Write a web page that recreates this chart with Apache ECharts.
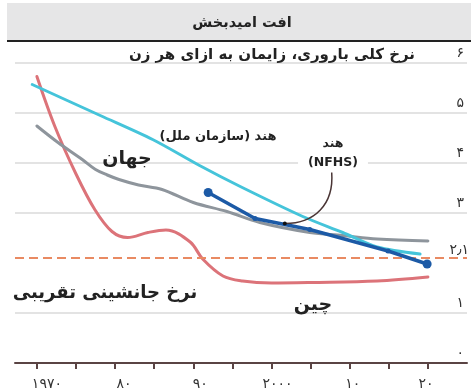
<!DOCTYPE html>
<html>
<head>
<meta charset="utf-8">
<script src="https://cdn.jsdelivr.net/npm/echarts@6/dist/echarts.min.js"></script>
<style>
  html, body { margin: 0; padding: 0; background: #fff; }
  #chart { width: 471px; height: 391px; direction: rtl; }
</style>
</head>
<body>
<div id="chart"></div>
<script>
// Total fertility rate, births per woman: [year, value]
const indiaUN = [
  [1969.4, 5.57], [1973.6, 5.27], [1978.1, 4.95], [1984.8, 4.47],
  [1990.8, 3.95], [1996, 3.53], [2004, 2.93],
  [2009.1, 2.61], [2013.5, 2.32], [2019, 2.18]
];
const world = [
  [1970, 4.74], [1972.7, 4.41], [1975.8, 4.07], [1977.5, 3.87], [1979, 3.76],
  [1980.5, 3.67], [1983, 3.56], [1986, 3.47], [1990, 3.21], [1994.3, 3.03],
  [1998.5, 2.81], [2004.9, 2.61], [2009.1, 2.55], [2013.5, 2.48], [2020, 2.44]
];
const china = [
  [1970, 5.73], [1972.3, 4.73], [1975, 3.78], [1977.4, 3.07], [1979.6, 2.63],
  [1981.6, 2.51], [1984.2, 2.61], [1986.5, 2.66], [1989.6, 2.42], [1991.2, 2.08],
  [1993.8, 1.74], [1996.3, 1.64], [2000, 1.6], [2005, 1.61], [2013.5, 1.64],
  [2020, 1.72]
];
const indiaNFHS = [
  [1991.9, 3.41], [1997.9, 2.89], [2004.9, 2.67], [2014.9, 2.24], [2019.9, 1.98]
];
const replacementRate = 2.1;

const xTickYears = [1970, 1980, 1990, 2000, 2010, 2020];
const xTickLabels = ['۱۹۷۰', '۸۰', '۹۰', '۲۰۰۰', '۱۰', '۲۰'];
const xMinorTicks = [1970, 1975, 1980, 1985, 1990, 1995, 2000, 2005, 2010, 2015, 2020];
const yTickLabels = ['۰', '۱', '', '۳', '۴', '۵', '۶'];

// horizontal nudge of each year label relative to its tick (px)
const xLabelShift = [10, 9, 7, 6, 3, -2];

const FONT = '"DejaVu Sans", "Noto Sans", sans-serif';
const chart = echarts.init(document.getElementById('chart'), null, { renderer: 'canvas' });

function lineSeries(name, data, color, z) {
  return {
    name, type: 'line', data, smooth: 0.35, symbol: 'none', z,
    lineStyle: { color, width: 3, cap: 'round', join: 'round' },
    silent: true, animation: false
  };
}

const rich = {};
xLabelShift.forEach((s, i) => {
  rich['l' + i] = {
    fontSize: 14, color: '#333', fontFamily: FONT,
    padding: s >= 0 ? [0, 0, 0, 2 * s] : [0, -2 * s, 0, 0]
  };
});

const option = {
  animation: false,
  grid: { left: 15, right: 4, top: 63, bottom: 27 },
  xAxis: {
    type: 'value', min: 1967.2, max: 2025,
    axisLine: { show: true, lineStyle: { color: '#5a4444', width: 2 } },
    axisTick: { show: true, customValues: xMinorTicks, length: 6, lineStyle: { color: '#5a4444', width: 2 } },
    axisLabel: {
      customValues: xTickYears, margin: 14, fontSize: 14, color: '#333', fontFamily: FONT,
      formatter: v => {
        const i = xTickYears.indexOf(v);
        return '{l' + i + '|' + xTickLabels[i] + '}';
      },
      rich
    },
    splitLine: { show: false }
  },
  yAxis: {
    type: 'value', min: 0, max: 6, interval: 1, position: 'right',
    axisLine: { show: false }, axisTick: { show: false },
    axisLabel: {
      inside: true, margin: 3, fontSize: 14, color: '#333', fontFamily: FONT,
      verticalAlign: 'bottom', padding: [0, 0, 3, 0],
      formatter: v => yTickLabels[Math.round(v)]
    },
    splitLine: {
      show: true,
      lineStyle: { width: 2, color: ['#e3e3e3', '#e3e3e3', 'rgba(0,0,0,0)', '#e3e3e3', '#e3e3e3', '#e3e3e3', '#e3e3e3'] }
    }
  },
  series: [
    Object.assign(lineSeries('china', china, '#dc7379', 3), {
      markLine: {
        silent: true, symbol: 'none',
        lineStyle: { color: '#e98a62', width: 2, type: [9, 5] },
        label: {
          position: 'insideEndTop', formatter: '۲٫۱', fontSize: 14, color: '#333',
          fontFamily: FONT, distance: [-2, 1]
        },
        data: [{ yAxis: replacementRate }]
      }
    }),
    lineSeries('world', world, '#8e959c', 4),
    Object.assign(lineSeries('indiaUN', indiaUN, '#45c4da', 5), { smooth: 0.3 }),
    {
      name: 'indiaNFHS', type: 'line', data: indiaNFHS, smooth: false, z: 6,
      symbol: 'circle',
      symbolSize: (v, p) => (p.dataIndex === 0 || p.dataIndex === indiaNFHS.length - 1) ? 9 : 5,
      itemStyle: { color: '#1c5aa6' },
      lineStyle: { color: '#1c5aa6', width: 3.5 },
      silent: true
    }
  ]
};
chart.setOption(option);

// Header, subtitle and in-plot labels
const px = (x, y) => chart.convertToPixel({ gridIndex: 0 }, [x, y]);
const tip = px(2001.7, 2.79);
const from = px(2007.7, 3.81);
const c1 = px(2008.0, 3.17);
const c2 = px(2005.5, 2.79);

function label(text, x, y, size, align) {
  return {
    type: 'text', x, y, z: 100,
    style: {
      text, fontSize: size, fontWeight: 'bold', fontFamily: FONT, fill: '#222',
      align: align || 'center', verticalAlign: 'middle'
    }
  };
}

chart.setOption({
  graphic: [
    { type: 'rect', shape: { x: 7, y: 3, width: 464, height: 37 }, style: { fill: '#e6e6e7' }, z: 100 },
    { type: 'line', shape: { x1: 7, y1: 41, x2: 471, y2: 41 }, style: { stroke: '#222', lineWidth: 2 }, z: 100 },
    label('افت امیدبخش', 242, 23, 14.5),
    label('نرخ کلی باروری، زایمان به ازای هر زن', 415, 55, 15, 'right'),
    label('هند (سازمان ملل)', 218, 137, 13),
    label('جهان', 127, 159, 19),
    {
      type: 'text', x: 333, y: 153, z: 100,
      style: {
        text: 'هند\n(NFHS)', fontSize: 12.5, fontWeight: 'bold', fontFamily: FONT, fill: '#222',
        align: 'center', verticalAlign: 'middle', lineHeight: 19,
        backgroundColor: '#fff', padding: [1, 10]
      }
    },
    label('نرخ جانشینی تقریبی', 105, 293, 18),
    label('چین', 313, 305, 19),
    {
      type: 'bezierCurve', z: 100,
      shape: { x1: from[0], y1: from[1], cpx1: c1[0], cpy1: c1[1], cpx2: c2[0], cpy2: c2[1], x2: tip[0], y2: tip[1] },
      style: { stroke: '#4a3535', lineWidth: 1.5, fill: null }
    },
    { type: 'circle', z: 101, shape: { cx: tip[0], cy: tip[1], r: 2 }, style: { fill: '#111' } }
  ]
});
</script>
</body>
</html>
